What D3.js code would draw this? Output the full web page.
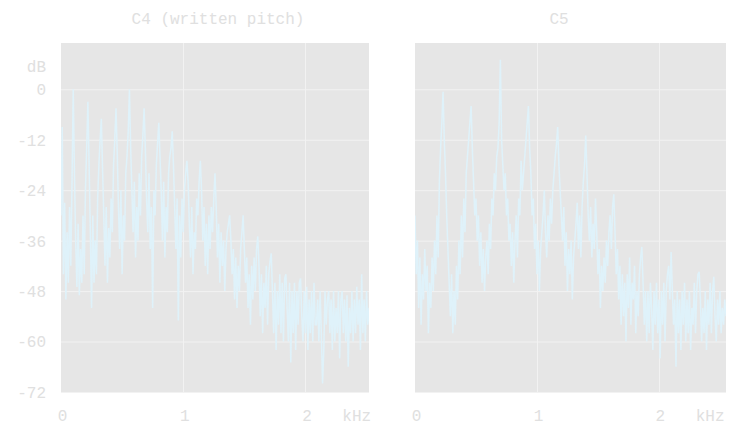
<!DOCTYPE html>
<html>
<head>
<meta charset="utf-8">
<script src="https://cdn.jsdelivr.net/npm/d3@7"></script>
<style>
  html, body { margin: 0; padding: 0; background: #ffffff; }
  svg { display: block; }
  text { font-family: "Liberation Mono", "Courier New", monospace; }
</style>
</head>
<body>
<svg id="chart" width="737" height="427"></svg>
<script>
// Spectrum magnitudes (dB) sampled every binKHz, starting at 0 kHz.
const binKHz = 0.01;

// Written C4 (tenor sax, sounding B♭2)
const c4Spectrum = [
  -30, -9, -44, -27, -50, -34, -46, -28, -42, -22,
  0, -20, -36, -47, -32, -49, -38, -46, -30, -44,
  -24, -14, -3, -18, -34, -52, -30, -46, -36, -44,
  -26, -18, -12, -7, -19, -30, -42, -28, -46, -33,
  -40, -26, -34, -18, -12, -4.5, -15, -28, -38, -24,
  -44, -30, -36, -20, -16, -10, 0, -14, -24, -34,
  -22, -40, -28, -36, -20, -30, -16, -11, -4.5, -14,
  -26, -34, -20, -38, -28, -52, -24, -30, -18, -13,
  -8, -16, -24, -36, -22, -40, -28, -34, -20, -16,
  -14, -10, -18, -28, -38, -26, -55, -30, -40, -26,
  -34, -24, -20, -17, -22, -32, -40, -28, -44, -34,
  -38, -26, -30, -22, -17, -24, -36, -28, -42, -32,
  -44, -30, -38, -28, -34, -26, -20, -28, -40, -32,
  -46, -34, -42, -36, -48, -38, -34, -32, -30, -36,
  -44, -38, -50, -40, -52, -42, -48, -38, -34, -30,
  -38, -46, -40, -52, -44, -56, -42, -50, -40, -48,
  -38, -35, -42, -54, -44, -58, -46, -52, -42, -56,
  -44, -41, -39, -48, -58, -46, -62, -48, -56, -44,
  -58, -46, -60, -45, -44, -52, -60, -46, -65, -48,
  -58, -46, -62, -48, -56, -46, -45, -54, -60, -48,
  -58, -47, -62, -50, -58, -48, -60, -46, -56, -56,
  -50, -60, -48, -58, -70, -62, -48, -56, -50, -48,
  -58, -50, -62, -48, -60, -52, -58, -48, -64, -50,
  -48, -58, -50, -60, -49, -66, -52, -58, -48, -60,
  -50, -58, -47, -56, -50, -62, -44, -58, -50, -60,
  -48, -56, -52, -58, -45, -56
];

// Written C5 (sounding B♭3)
const c5Spectrum = [
  -30, -44, -36, -52, -40, -56, -44, -50, -38, -48,
  -42, -58, -46, -52, -40, -48, -36, -44, -30, -40,
  -22, -14, -8, -0.6, -12, -20, -30, -38, -46, -54,
  -44, -58, -48, -56, -42, -50, -36, -44, -30, -40,
  -26, -34, -20, -16, -12, -8, -4, -14, -22, -30,
  -26, -36, -30, -42, -34, -46, -38, -48, -40, -36,
  -44, -32, -38, -26, -30, -20, -24, -16, -14, -8,
  7, -12, -18, -24, -20, -30, -26, -36, -32, -42,
  -34, -46, -36, -30, -40, -26, -30, -17, -24, -20,
  -16, -12, -8, -4, -14, -20, -30, -26, -38, -32,
  -44, -36, -48, -38, -34, -30, -24, -34, -40, -30,
  -36, -26, -32, -24, -20, -16, -13, -9, -18, -24,
  -30, -36, -28, -42, -34, -48, -38, -44, -36, -50,
  -40, -36, -32, -27, -38, -30, -40, -28, -22, -18,
  -11, -20, -30, -36, -28, -40, -32, -38, -26, -34,
  -44, -38, -52, -42, -48, -40, -46, -36, -42, -34,
  -30, -38, -28, -25, -34, -44, -38, -50, -42, -56,
  -44, -54, -46, -60, -44, -52, -40, -56, -46, -50,
  -42, -58, -48, -54, -44, -40, -37.5, -46, -56, -48,
  -60, -48, -58, -46, -52, -62, -48, -56, -46, -58,
  -50, -64, -48, -56, -46, -60, -48, -44, -42, -50,
  -38.7, -48, -56, -50, -66, -48, -58, -50, -62, -48,
  -56, -46, -60, -50, -58, -48, -62, -52, -56, -46,
  -58, -48, -44, -43.4, -50, -60, -52, -58, -48, -62,
  -50, -56, -46, -58, -48, -44.6, -54, -60, -50, -56,
  -48, -58, -52, -56, -50, -54
];

const panelTitles = ["C4 (written pitch)", "C5"];
const yTickValues = [0, -12, -24, -36, -48, -60, -72];
const xTickValues = [0, 1, 2];
const yAxisUnit = "dB";
const xAxisUnit = "kHz";

const colors = {
  plotBg: "#e6e6e6",
  grid: "#f2f2f2",
  text: "#e0e0e0",
  line: "#dff2fa"
};

const svg = d3.select("#chart");

const yScale = d3.scaleLinear().domain([-72, 11]).range([392, 43]);
const plainNumber = d => String(d);   // ASCII hyphen for negative values

const panels = [
  { title: panelTitles[0], values: c4Spectrum, x0: 61, x1: 369, maxKHz: 2.52, titleX: 218, showY: true },
  { title: panelTitles[1], values: c5Spectrum, x0: 415, x1: 726, maxKHz: 2.55, titleX: 559, showY: false }
];

panels.forEach((p, i) => {
  const xScale = d3.scaleLinear().domain([0, p.maxKHz]).range([p.x0, p.x1]);
  const g = svg.append("g");
  const top = yScale.range()[1], bottom = yScale.range()[0];

  // plot background
  g.append("rect")
    .attr("x", p.x0).attr("y", top)
    .attr("width", p.x1 - p.x0).attr("height", bottom - top)
    .attr("fill", colors.plotBg);

  // grid lines
  g.append("g").selectAll("line").data(yTickValues).join("line")
    .attr("x1", p.x0).attr("x2", p.x1)
    .attr("y1", d => yScale(d) + 0.5).attr("y2", d => yScale(d) + 0.5)
    .attr("stroke", colors.grid).attr("stroke-width", 1);
  g.append("g").selectAll("line").data(xTickValues.filter(d => d > 0)).join("line")
    .attr("x1", d => Math.round(xScale(d)) + 0.5).attr("x2", d => Math.round(xScale(d)) + 0.5)
    .attr("y1", top).attr("y2", bottom)
    .attr("stroke", colors.grid).attr("stroke-width", 1);

  // spectrum trace, clipped to the plot area
  const clipId = "clip" + i;
  svg.append("clipPath").attr("id", clipId).append("rect")
    .attr("x", p.x0).attr("y", top)
    .attr("width", p.x1 - p.x0).attr("height", bottom - top);

  const line = d3.line()
    .x((d, k) => xScale(k * binKHz))
    .y(d => yScale(d));

  g.append("path")
    .datum(p.values)
    .attr("clip-path", `url(#${clipId})`)
    .attr("fill", "none")
    .attr("stroke", colors.line)
    .attr("stroke-width", 1.5)
    .attr("stroke-linejoin", "miter")
    .attr("d", line);

  // title
  g.append("text")
    .attr("x", p.titleX).attr("y", 24)
    .attr("text-anchor", "middle")
    .attr("font-size", 16)
    .attr("fill", colors.text)
    .text(p.title);

  // x axis labels
  const xAxis = d3.axisBottom(xScale).tickValues(xTickValues).tickSize(0).tickPadding(0)
    .tickFormat(plainNumber);
  const xg = g.append("g").attr("transform", "translate(1,421)").call(xAxis);
  xg.select(".domain").remove();
  xg.selectAll("text")
    .attr("dy", 0).attr("y", 0)
    .attr("font-size", 16).attr("fill", colors.text)
    .attr("font-family", '"Liberation Mono", "Courier New", monospace');
  g.append("text")
    .attr("x", xScale(2.42)).attr("y", 421)
    .attr("text-anchor", "middle")
    .attr("font-size", 16).attr("fill", colors.text)
    .text(xAxisUnit);

  // y axis labels (left panel only)
  if (p.showY) {
    const yAxis = d3.axisLeft(yScale).tickValues(yTickValues).tickSize(0).tickPadding(0)
      .tickFormat(plainNumber);
    const yg = g.append("g").attr("transform", "translate(46,0)").call(yAxis);
    yg.select(".domain").remove();
    yg.selectAll("text")
      .attr("dy", "0.34em")
      .attr("font-size", 16).attr("fill", colors.text)
      .attr("font-family", '"Liberation Mono", "Courier New", monospace');
    g.append("text")
      .attr("x", 46).attr("y", yScale(5.5))
      .attr("dy", "0.34em")
      .attr("text-anchor", "end")
      .attr("font-size", 16).attr("fill", colors.text)
      .text(yAxisUnit);
  }
});
</script>
</body>
</html>
